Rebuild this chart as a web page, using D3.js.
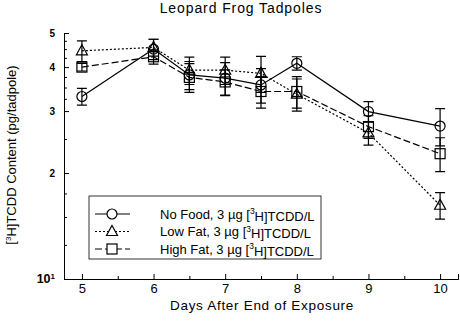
<!DOCTYPE html>
<html><head><meta charset="utf-8">
<script src="https://cdn.jsdelivr.net/npm/d3@7"></script>
<style>body{margin:0;background:#fff}svg{display:block;font-family:"Liberation Sans",Arial,sans-serif}</style>
</head><body><div id="chart"></div>
<script>
const days = [5, 6, 6.5, 7, 7.5, 8, 9, 10];
const noFood = [3.3, 4.5, 3.8, 3.72, 3.56, 4.1, 2.99, 2.72];
const noFoodErr = [0.18, 0.3, 0.35, 0.4, 0.4, 0.18, 0.2, 0.33];
const lowFat = [4.45, 4.55, 3.92, 3.92, 3.84, 3.35, 2.6, 1.62];
const lowFatErr = [0.3, 0.25, 0.35, 0.35, 0.45, 0.35, 0.2, 0.14];
const highFat = [4.0, 4.28, 3.74, 3.63, 3.41, 3.41, 2.71, 2.27];
const highFatErr = [0.1, 0.2, 0.35, 0.3, 0.35, 0.35, 0.2, 0.25];
const seriesNames = ["No Food", "Low Fat", "High Fat"];
const xTicks = [5, 6, 7, 8, 9, 10];
const xMinor = [5.5, 6.5, 7.5, 8.5, 9.5];
const yTicks = [2, 3, 4, 5];
const yMinor = [1.25, 1.5, 1.75, 2.5, 3.25, 3.5, 3.75, 4.25, 4.5, 4.75];

const W = 460, H = 323;
const svg = d3.select("#chart").append("svg").attr("width", W).attr("height", H);
const x = d3.scaleLinear().domain([4.75, 10.25]).range([64, 458]);
const y = d3.scaleLog().domain([1, 5]).range([279, 33]);

// axes
const gx = svg.append("g").attr("transform", `translate(0,${y(1)})`);
gx.call(d3.axisBottom(x).tickValues(xTicks).tickSize(-5).tickFormat(d3.format("d")));
gx.append("g").call(d3.axisBottom(x).tickValues(xMinor).tickSize(-3).tickFormat(""));
gx.selectAll(".domain").attr("stroke", "#000");
gx.selectAll("text").attr("font-size", 13).attr("fill", "#000").attr("y", 5).attr("dy", "0.71em");

const gy = svg.append("g").attr("transform", `translate(${x(4.75)},0)`);
gy.call(d3.axisLeft(y).tickValues(yTicks).tickSize(-5).tickFormat(d3.format("d")));
gy.append("g").call(d3.axisLeft(y).tickValues(yMinor).tickSize(-3).tickFormat(""));
gy.selectAll("text").attr("font-size", 10).attr("font-weight", "bold").attr("fill", "#000").attr("x", -9);
// bottom label 10^1
const lab = gy.append("text").attr("x", -9).attr("y", y(1)).attr("dy", "0.35em")
  .attr("text-anchor", "end").attr("fill", "#000").attr("font-size", 12.5).attr("font-weight", "bold");
lab.append("tspan").text("10");
lab.append("tspan").attr("font-size", 8).attr("dy", "-0.5em").text("1");

// titles
svg.append("text").attr("x", 241).attr("y", 13).attr("text-anchor", "middle").attr("font-size", 14)
  .attr("letter-spacing", 0.9).text("Leopard Frog Tadpoles");
svg.append("text").attr("x", 262).attr("y", 310).attr("text-anchor", "middle").attr("font-size", 13.5)
  .attr("letter-spacing", 0.7).text("Days After End of Exposure");
const yl = svg.append("text").attr("transform", "translate(15,155) rotate(-90)").attr("text-anchor", "middle").attr("font-size", 13);
yl.append("tspan").text("[");
yl.append("tspan").attr("font-size", 8).attr("dy", "-0.5em").text("3");
yl.append("tspan").attr("dy", "0.35em").text("H]TCDD Content (pg/tadpole)");

const series = [
  {name: seriesNames[0], vals: noFood, err: noFoodErr, dash: null, sym: "circle"},
  {name: seriesNames[1], vals: lowFat, err: lowFatErr, dash: "2,2", sym: "triangle"},
  {name: seriesNames[2], vals: highFat, err: highFatErr, dash: "7,3", sym: "square"}
];

function drawSym(g, sym, cx, cy) {
  if (sym === "circle") g.append("circle").attr("cx", cx).attr("cy", cy).attr("r", 5);
  else if (sym === "triangle") g.append("path").attr("d", `M${cx},${cy-6}L${cx+5.5},${cy+4}L${cx-5.5},${cy+4}Z`);
  else g.append("rect").attr("x", cx-5).attr("y", cy-5).attr("width", 10).attr("height", 10);
}

const line = d3.line().x(d => x(d[0])).y(d => y(d[1]));
series.forEach(s => {
  const g = svg.append("g");
  const pts = days.map((d, i) => [d, s.vals[i], s.err[i]]);
  g.append("path").attr("d", line(pts)).attr("fill", "none").attr("stroke", "#000")
    .attr("stroke-width", 1.2).attr("stroke-dasharray", s.dash);
  pts.forEach(p => {
    const cx = x(p[0]);
    const y1 = y(p[1] + p[2]), y2 = y(p[1] - p[2]);
    g.append("path").attr("d", `M${cx},${y1}V${y2}M${cx-5},${y1}H${cx+5}M${cx-5},${y2}H${cx+5}`)
      .attr("stroke", "#000").attr("stroke-width", 1.2).attr("fill", "none");
  });
  const mg = g.append("g").attr("fill", "none").attr("stroke", "#000").attr("stroke-width", 1.2);
  pts.forEach(p => drawSym(mg, s.sym, x(p[0]), y(p[1])));
});

// legend
const lg = svg.append("g");
lg.append("rect").attr("x", 89).attr("y", 196).attr("width", 232).attr("height", 63)
  .attr("fill", "#fff").attr("stroke", "#000").attr("stroke-width", 0.8);
series.forEach((s, i) => {
  const ly = 214 + i * 17.5;
  lg.append("line").attr("x1", 95).attr("x2", 130).attr("y1", ly).attr("y2", ly)
    .attr("stroke", "#000").attr("stroke-width", 1.2).attr("stroke-dasharray", s.dash);
  const mg = lg.append("g").attr("fill", "#fff").attr("stroke", "#000").attr("stroke-width", 1.2);
  drawSym(mg, s.sym, 112, ly);
  const t = lg.append("text").attr("x", 160).attr("y", ly).attr("dy", "0.35em").attr("font-size", 13);
  t.append("tspan").text(s.name + ", 3 \u00b5g [");
  t.append("tspan").attr("font-size", 8.5).attr("dy", "-0.5em").text("3");
  t.append("tspan").attr("dy", "0.5em").text("H]TCDD/L");
});
</script></body></html>
